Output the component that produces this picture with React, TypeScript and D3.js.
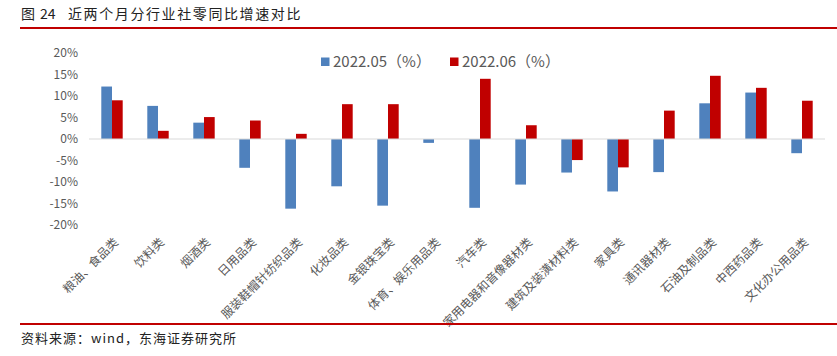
import React from "react";
import * as d3 from "d3";

const categories = [
  "粮油、食品类", "饮料类", "烟酒类", "日用品类", "服装鞋帽针纺织品类", "化妆品类",
  "金银珠宝类", "体育、娱乐用品类", "汽车类", "家用电器和音像器材类", "建筑及装潢材料类",
  "家具类", "通讯器材类", "石油及制品类", "中西药品类", "文化办公用品类",
];
const may2022 = [12.2, 7.7, 3.8, -6.7, -16.2, -11.0, -15.5, -0.9, -16.0, -10.6, -7.8, -12.2, -7.7, 8.3, 10.8, -3.3];
const jun2022 = [9.0, 1.9, 5.1, 4.3, 1.2, 8.1, 8.1, 0, 14.0, 3.2, -4.9, -6.6, 6.6, 14.7, 11.9, 8.9];
const seriesNames = ["2022.05（%）", "2022.06（%）"];
const yTicks = [20, 15, 10, 5, 0, -5, -10, -15, -20];

const colors = ["#4f81bd", "#c00000"];
const W = 837, H = 356;

export default function App() {
  const x = d3.scaleBand<string>().domain(categories).range([89, 825]);
  const y = d3.scaleLinear().domain([-20, 20]).range([225, 53]);
  const bw = 10.7;
  const series = [may2022, jun2022];
  const font = "'Noto Sans CJK SC', 'Noto Sans', sans-serif";
  return (
    <svg width={W} height={H} style={{ position: "absolute", left: 0, top: 0, background: "#fff" }} fontFamily={font}>
      <text x={21} y={18.5} fontSize={14} fill="#222">图</text>
      <text x={40} y={18.5} fontSize={14} fill="#222">24</text>
      <text x={68} y={18.5} fontSize={14} fill="#222" letterSpacing={1.6}>近两个月分行业社零同比增速对比</text>
      <line x1={20} x2={837} y1={28} y2={28} stroke="#c00000" strokeWidth={2} />
      {yTicks.map((t) => (
        <text key={t} x={78} y={y(t)} dy="0.35em" textAnchor="end" fontSize={12} fill="#595959">
          {t}%
        </text>
      ))}
      {series.map((vals, si) =>
        vals.map((v, i) => {
          const cx = x(categories[i])! + x.bandwidth() / 2;
          const x0 = si === 0 ? cx - bw : cx;
          const y0 = Math.min(y(v), y(0));
          const h = Math.abs(y(v) - y(0));
          if (h === 0) return null;
          return <rect key={`${si}-${i}`} x={x0} y={y0} width={bw} height={h} fill={colors[si]} />;
        })
      )}
      <line x1={89} x2={825} y1={y(0)} y2={y(0)} stroke="#d9d9d9" strokeWidth={1} />
      {categories.map((c) => {
        const cx = x(c)! + x.bandwidth() / 2;
        return (
          <text key={c} transform={`translate(${cx + 7},${243}) rotate(-45)`} textAnchor="end" fontSize={12} fill="#595959">
            {c}
          </text>
        );
      })}
      <rect x={321} y={57.5} width={8.5} height={8.5} fill={colors[0]} />
      <text x={333} y={66.5} fontSize={15} fill="#595959">{seriesNames[0]}</text>
      <rect x={450} y={57.5} width={8.5} height={8.5} fill={colors[1]} />
      <text x={462} y={66.5} fontSize={15} fill="#595959">{seriesNames[1]}</text>
      <line x1={20} x2={837} y1={324} y2={324} stroke="#c00000" strokeWidth={2} />
      <text x={21} y={343} fontSize={13} fill="#222" letterSpacing={1}>资料来源：wind，东海证券研究所</text>
    </svg>
  );
}
